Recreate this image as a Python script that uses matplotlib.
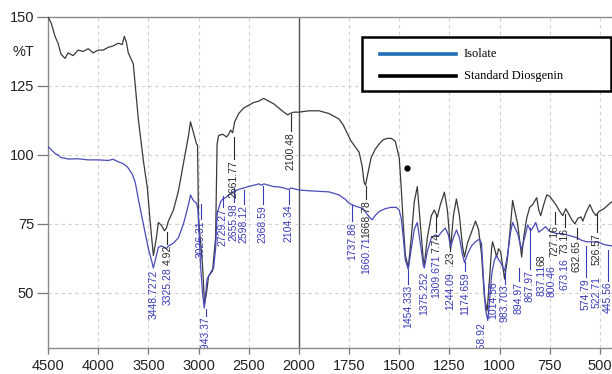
import numpy as np
import matplotlib
matplotlib.use("Agg")
import matplotlib.pyplot as plt
from matplotlib.lines import Line2D
from matplotlib.patches import Rectangle

# ---------------- data ----------------
std_wn = [4500, 4470, 4430, 4400, 4370, 4330, 4300, 4250, 4200, 4150, 4100, 4050, 4000, 3950, 3900, 3850,
          3800, 3760, 3740, 3720, 3700, 3650, 3600, 3550, 3510, 3480, 3450, 3420, 3400, 3370, 3340, 3320,
          3300, 3250, 3200, 3150, 3100, 3080, 3050, 3020, 3010, 3000, 2960, 2940, 2920, 2900, 2860, 2830,
          2815, 2800, 2760, 2720, 2700, 2680, 2660, 2640, 2600, 2550, 2500, 2450, 2400, 2350, 2300, 2250,
          2200, 2150, 2110, 2090, 2050, 2000, 1950, 1900, 1850, 1800, 1780, 1760, 1740, 1720, 1700, 1685,
          1675, 1668, 1660, 1640, 1620, 1600, 1580, 1560, 1540, 1520, 1510, 1500, 1490, 1480, 1470, 1455,
          1440, 1425, 1410, 1395, 1380, 1375, 1360, 1340, 1325, 1310, 1295, 1275, 1260, 1244, 1230, 1215,
          1200, 1185, 1175, 1160, 1140, 1120, 1105, 1090, 1075, 1062, 1050, 1040, 1035, 1025, 1015, 1005,
          995, 985, 975, 960, 945, 935, 925, 910, 895, 890, 880, 865, 850, 835, 815, 805, 795, 780, 765,
          750, 735, 720, 700, 685, 670, 655, 640, 625, 610, 595, 585, 570, 550, 535, 520, 505, 480, 465,
          450, 440]
std_t = [150, 148, 143, 140.5, 136.5, 135, 137, 136, 138, 137.5, 138.5, 137, 138, 138, 139, 139.5,
         140.5, 140, 143, 141, 137, 133, 113, 98, 88, 75, 63.5, 70, 75.5, 74.5, 72.5, 73.5,
         76, 80, 87, 97, 107, 112, 108, 104, 103.5, 77, 60, 46, 50, 56, 58, 70,
         104, 107, 107.5, 106.5, 107.5, 109, 108, 112, 115, 117, 118, 119, 119.5, 120.5, 119.5, 118.5,
         117, 115.5, 114.5, 115, 115.5, 115.5, 116, 116, 115, 113, 111, 108, 105, 103, 101, 96,
         90, 89, 92, 99, 102, 104, 105.5, 106, 106, 105, 102, 99, 88, 75, 64, 59,
         70, 83, 88.5, 75, 62, 60, 70, 78, 80, 77.5, 82, 86.5, 80, 66, 78, 84,
         78, 67, 63, 68, 72, 76, 73, 64, 48, 43.5, 55, 66, 68.5, 66, 63, 66,
         65, 60, 55, 63, 75, 83.5, 80, 75, 66, 63, 70, 77, 81, 82, 84.5, 80, 78, 82, 85.5,
         85, 83.5, 82, 79.5, 78, 80.5, 78.5, 76.5, 75, 77, 77.5, 76, 79, 82, 79.5, 78, 79.5, 80.5, 81.5,
         82.5, 83]

iso_wn = [4500, 4470, 4430, 4400, 4370, 4330, 4300, 4200, 4100, 4000, 3900, 3850, 3800, 3760, 3720, 3700,
          3660, 3630, 3600, 3550, 3500, 3470, 3450, 3430, 3400, 3370, 3340, 3320, 3300, 3250, 3200, 3150,
          3100, 3080, 3060, 3040, 3020, 3005, 3000, 2980, 2960, 2943, 2930, 2915, 2900, 2870, 2850, 2830,
          2815, 2800, 2780, 2760, 2730, 2700, 2660, 2630, 2600, 2550, 2500, 2450, 2400, 2370, 2350, 2300,
          2250, 2200, 2150, 2105, 2080, 2000, 1950, 1900, 1850, 1800, 1770, 1750, 1737, 1720, 1700, 1680,
          1665, 1650, 1635, 1620, 1600, 1570, 1540, 1515, 1500, 1490, 1480, 1470, 1455, 1440, 1425, 1410,
          1395, 1380, 1375, 1360, 1340, 1320, 1305, 1290, 1270, 1255, 1244, 1230, 1215, 1200, 1185, 1175,
          1160, 1140, 1120, 1100, 1090, 1080, 1070, 1059, 1050, 1040, 1035, 1025, 1015, 1005, 995, 985,
          975, 960, 945, 935, 920, 910, 895, 890, 875, 860, 845, 835, 820, 805, 790, 770, 755, 740, 715,
          690, 665, 640, 615, 590, 565, 540, 510, 480, 440]
iso_t = [103, 102, 100.5, 100, 99, 98.8, 98.5, 98.6, 98.2, 98.2, 98, 98.4, 97.5, 97, 96, 95.2,
         93, 90, 84, 75, 66, 62, 59, 62, 66.5, 67, 66.5, 66, 67, 68, 70, 75,
         82, 85.5, 84, 83, 82.5, 80, 76, 60, 50, 44.5, 49, 55, 56, 58, 59, 66,
         79, 80.5, 83, 84, 84.5, 85.5, 86.5, 87, 87.5, 88, 88.6, 89, 89.5, 89, 89.5, 89,
         88.5, 88.4, 88, 87.5, 88, 87.3, 87, 86.8, 86.6, 85.5, 84, 82.5, 82, 81.5, 81, 80.5,
         79, 77.5, 76.5, 78, 79.5, 80.5, 81, 81, 80, 77, 70, 62, 58.5, 66, 73, 75.5,
         68, 60, 59, 65, 70, 71, 70.5, 72, 73.5, 71, 66.5, 70, 72.8, 70, 64, 61,
         64, 67, 68.5, 69.5, 68, 55, 44, 40, 47, 56, 58.5, 62, 63.5, 62, 61, 59.5,
         58, 64, 72, 75.5, 73, 71.5, 67, 66, 70, 74.6, 72.5, 73.5, 75.5, 72, 72.8, 74, 72.5, 72, 71.5,
         71.5, 71, 70.5, 70, 69, 68.5, 68.5, 68.5, 67.5, 67]

# peak annotations: text, position (cm-1), colour key, text-top value, leader start value
lab_text = ["3448.7272", "3325.28", "4.92", "3026.31", "2943.37", "2729.27", "2655.98", "2598.12",
            "2368.59", "2104.34", "2661.77", "2100.48", "1737.86", "1668.78", "1660.71", "1454.333",
            "1375.252", "1309.671", "7.74", "1244.09", ".23", "1174.659", "1058.92", "1014.56",
            "983.703", "894.97", "867.97", "837.11", "68", "800.46", "727.16", "673.16", "73.16",
            "632.65", "574.79", "522.71", "526.57", "445.56"]
lab_pos = [3450, 3310, 3310, 2980, 2930, 2760, 2650, 2550, 2360, 2100, 2650, 2080, 1735, 1665, 1665, 1455,
           1375, 1315, 1315, 1245, 1245, 1170, 1090, 1030, 975, 905, 850, 790, 790, 740, 725, 675, 675,
           615, 570, 515, 515, 460]
lab_kind = ["i", "i", "s", "i", "i", "i", "i", "i", "i", "i", "s", "s", "i", "s", "i", "i",
            "i", "i", "s", "i", "s", "i", "i", "i", "i", "i", "i", "i", "s", "i", "s", "i", "s",
            "s", "i", "i", "s", "i"]
lab_top = [58.3, 59.4, 67.4, 76.4, 41.3, 80.8, 82.6, 81.9, 81.9, 81.9, 98.2, 108.3, 75.7, 83.7, 70.4, 52.9,
           57.6, 63.8, 71.7, 57.6, 64.9, 57.6, 39.5, 54.0, 52.9, 54.0, 58.3, 60.1, 63.8, 60.1, 74.6, 62.6,
           73.6, 69.2, 55.4, 56.2, 71.7, 54.0]
lab_from = [None, None, 72.1, 82.2, 44.2, 85.1, 88.0, 87.3, 88.8, 87.3, 106.5, 114.9, 81.9, 88.8, None,
            58.3, None, None, 78.3, None, 66.7, 61.2, None, None, 57.6, 59.0, 73.6, None, None, None,
            79.3, None, 78.6, 73.6, 67.0, None, 79.0, 65.6]

dot_wn = [1460]
dot_t = [95.3]

x_ticks = [4500, 4000, 3500, 3000, 2500, 2000, 1750, 1500, 1250, 1000, 750, 500]
y_ticks = [50, 75, 100, 125, 150]
legend_labels = ["Isolate", "Standard Diosgenin"]

# ---------------- style ----------------
W, H = 612, 374
C_STD = "#3a3a3a"
C_ISO = "#4a4ab8"
C_ISO_TXT = "#3a3ab8"
C_STD_TXT = "#2a2a2a"
SANS = ["Liberation Sans", "DejaVu Sans"]
SERIF = ["Liberation Serif", "DejaVu Serif"]


def fwd(x):
    x = np.asarray(x, dtype=float)
    return np.where(x >= 2000, (x - 2000) / 500.0, (x - 2000) / 250.0)


def inv(u):
    u = np.asarray(u, dtype=float)
    return np.where(u >= 0, 2000 + 500.0 * u, 2000 + 250.0 * u)


fig = plt.figure(figsize=(W / 100, H / 100), dpi=100)
ax = fig.add_axes([48 / W, 26 / H, 572 / W, 331 / H])
ax.set_xscale("function", functions=(fwd, inv))
ax.set_xlim(4500, 400)
ax.set_ylim(30, 150)

ax.grid(True, ls=(0, (3, 3)), color="#cfcfcf", lw=0.8)
ax.set_axisbelow(True)
ax.axvline(2000, color="#555555", lw=1.0, zorder=1.5)

ax.plot(std_wn, std_t, color=C_STD, lw=0.9, zorder=3)
ax.plot(iso_wn, iso_t, color=C_ISO, lw=0.9, zorder=3)
ax.plot(dot_wn, dot_t, "o", color="black", ms=3.5, zorder=4)

for txt, p, k, top, frm in zip(lab_text, lab_pos, lab_kind, lab_top, lab_from):
    col = C_ISO_TXT if k == "i" else C_STD_TXT
    ax.text(p, top, txt, rotation=90, ha="center", va="top", fontsize=7.5,
            family=SANS, color=col, clip_on=True, zorder=5)
    if frm is not None:
        ax.plot([p, p], [frm, top + 0.3], color=col, lw=0.8, zorder=5)

ax.set_xticks(x_ticks)
ax.set_xticklabels([str(t) for t in x_ticks])
ax.set_yticks(y_ticks)
ax.set_yticklabels([str(t) for t in y_ticks])
ax.minorticks_off()
for lbl in ax.get_xticklabels() + ax.get_yticklabels():
    lbl.set_family(SANS)
    lbl.set_fontsize(10.5)
    lbl.set_color("#222222")
ax.tick_params(axis="y", length=8, width=0.9, color="#777777", pad=2)
ax.tick_params(axis="x", length=4, width=0.9, color="#777777", pad=4)

for s in ["left", "bottom", "top"]:
    ax.spines[s].set_color("#8a8a8a")
    ax.spines[s].set_linewidth(1.0)
ax.spines["right"].set_visible(False)

fig.text(23 / W, 1 - 52 / H, "%T", ha="center", va="center", fontsize=10.5,
         family=SANS, color="#222222")


# legend box (figure pixel coordinates)
def fx(px):
    return px / W


def fy(py):
    return 1 - py / H


fig.patches.append(Rectangle((fx(362), fy(91)), fx(611) - fx(362), fy(37) - fy(91),
                             transform=fig.transFigure, facecolor="white",
                             edgecolor="black", lw=1.8, zorder=10))
leg_cols = ["#1f6fb8", "black"]
leg_y = [54, 76]
for lab, col, yy in zip(legend_labels, leg_cols, leg_y):
    fig.lines.append(Line2D([fx(380), fx(456)], [fy(yy), fy(yy)], transform=fig.transFigure,
                            color=col, lw=2.6, zorder=11))
    fig.text(fx(464), fy(yy), lab, ha="left", va="center", fontsize=9,
             family=SERIF, color="black", zorder=12)

fig.savefig("out.png", dpi=100)
